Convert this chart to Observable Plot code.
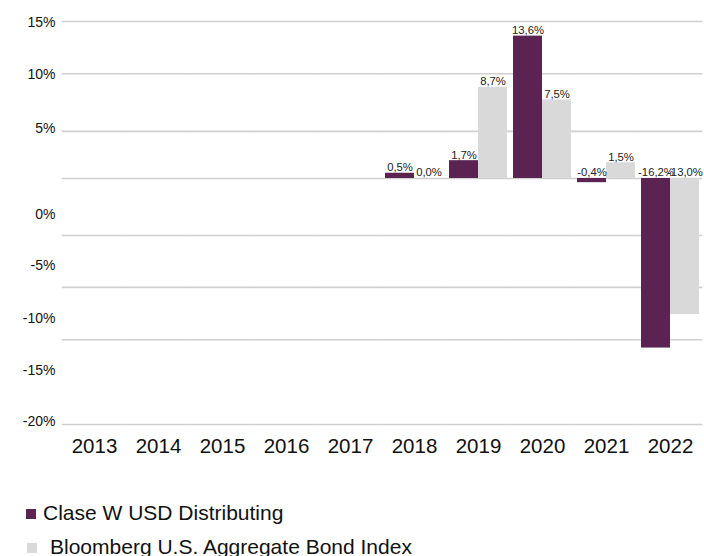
<!DOCTYPE html>
<html><head><meta charset="utf-8">
<script src="https://cdn.jsdelivr.net/npm/d3@7"></script>
<script src="https://cdn.jsdelivr.net/npm/@observablehq/plot@0.6"></script>
<style>
body{margin:0;background:#fff;font-family:"Liberation Sans",Arial,sans-serif;}
#chart svg{display:block;}
#legend{position:relative;height:86px;width:704px;}
.item{position:absolute;font-size:21px;line-height:24px;color:#111;white-space:nowrap;}
.sw{position:absolute;width:10px;height:10px;}
</style></head><body><div id="chart"></div><div id="legend"></div>
<script>
const years = ["2013","2014","2015","2016","2017","2018","2019","2020","2021","2022"];
const fundName = "Clase W USD Distributing";
const benchName = "Bloomberg U.S. Aggregate Bond Index";
const fundValues = [null,null,null,null,null,0.5,1.7,13.6,-0.4,-16.2];
const benchValues = [null,null,null,null,null,0.0,8.7,7.5,1.5,-13.0];
const yTickValues = [14.9,9.94,4.78,-3.44,-8.31,-13.4,-18.3,-23.2];
const yTickLabels = ["15%","10%","5%","0%","-5%","-10%","-15%","-20%"];
const gridValues = [15,10,4.5,0,-5.45,-10.4,-15.4,-23.5];
const fundColor = "#5a2352";
const benchColor = "#d9d9d9";

const data = [];
years.forEach((y, i) => {
  data.push({year: y, series: fundName, value: fundValues[i]});
  data.push({year: y, series: benchName, value: benchValues[i]});
});
const labelMap = new Map(yTickValues.map((v, i) => [v, yTickLabels[i]]));
const fmt = v => v == null ? "" : v.toFixed(1).replace(".", ",") + "%";

const plot = Plot.plot({
  width: 704,
  height: 470,
  marginLeft: 59,
  marginRight: 0,
  marginTop: 10.5,
  marginBottom: 40.8,
  style: {fontFamily: "'Liberation Sans', Arial, sans-serif", color: "#111", background: "#fff"},
  fx: {domain: years, paddingInner: 0.1, paddingOuter: 0.05, label: null},
  x: {domain: [fundName, benchName], padding: 0, axis: null},
  y: {domain: [-24, 16], label: null},
  color: {domain: [fundName, benchName], range: [fundColor, benchColor]},
  marks: [
    Plot.ruleY(gridValues, {stroke: "#d0d0d0", strokeWidth: 1.6, insetLeft: -3.3, insetRight: -3.3}),
    Plot.barY(data, {fx: "year", x: "series", y: "value", fill: "series"}),
    Plot.text(data, {
      filter: d => d.value != null,
      fx: "year", x: "series", y: d => d.value == null ? null : Math.max(d.value, 0), text: d => fmt(d.value),
      lineAnchor: "bottom", dy: -2, fontSize: 11.3, fill: "#222"
    }),
    Plot.axisY({ticks: yTickValues, tickFormat: d => labelMap.get(d), tickSize: 0, tickPadding: 10, fontSize: 14, label: null}),
    Plot.axisFx({anchor: "bottom", tickSize: 0, tickPadding: 9, fontSize: 20.5, label: null})
  ]
});
document.getElementById("chart").appendChild(plot);

const legend = document.getElementById("legend");
const items = [
  {name: fundName, color: fundColor, sx: 26, tx: 43, cy: 43},
  {name: benchName, color: benchColor, sx: 27, tx: 50, cy: 77}
];
items.forEach(it => {
  const sw = document.createElement("div");
  sw.className = "sw";
  sw.style.left = it.sx + "px";
  sw.style.top = (it.cy - 4) + "px";
  sw.style.background = it.color;
  legend.appendChild(sw);
  const t = document.createElement("div");
  t.className = "item";
  t.style.left = it.tx + "px";
  t.style.top = (it.cy - 12) + "px";
  t.textContent = it.name;
  legend.appendChild(t);
});
</script></body></html>
